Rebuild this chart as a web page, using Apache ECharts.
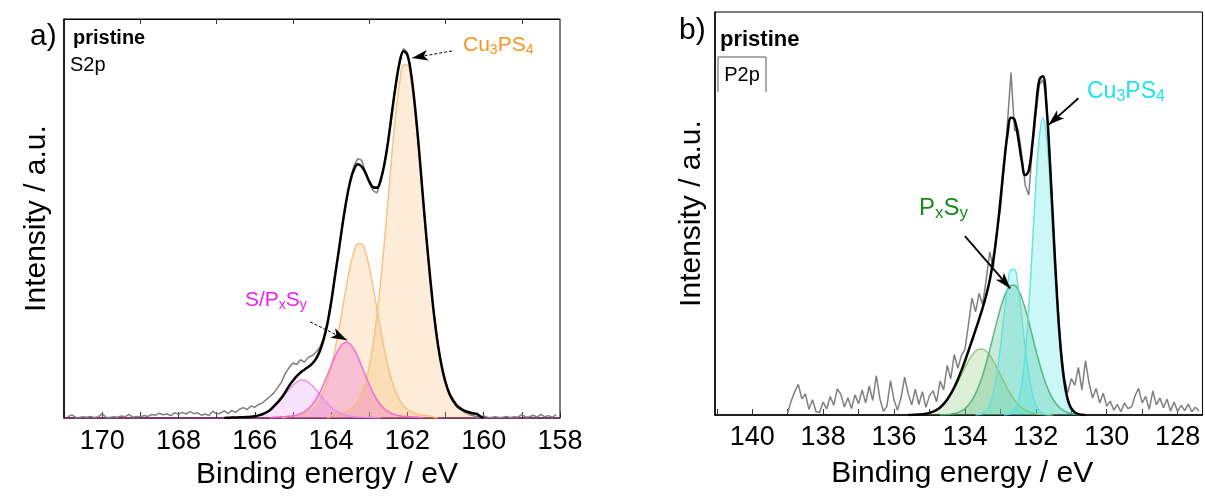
<!DOCTYPE html>
<html>
<head>
<meta charset="utf-8">
<script src="https://cdn.jsdelivr.net/npm/echarts@6/dist/echarts.min.js"></script>
<style>
  html, body { margin: 0; padding: 0; background: #ffffff; }
  #chart { width: 1205px; height: 498px; }
</style>
</head>
<body>
<div id="chart"></div>
<script>
// ---------- S2p region (panel a) ----------
// Measured spectrum, 0.1 eV steps going down from 170.9 eV
const s2pRaw = { start: 170.9, step: -0.1, values: [
  0.3, 0.8, 0.2, 0.1, 0.3, 0.2, 0.4, 0.1, 0.3, 1.1,
  0.2, 0.1, 0.3, 0.2, 0.5, 0.3, 0.9, 0.2, 0.4, 0.3,
  0.6, 0.4, 0.9, 0.7, 1.2, 0.8, 1.0, 0.6, 1.3, 0.9,
  1.4, 1.0, 1.6, 1.1, 1.3, 0.7, 1.0, 0.6, 1.7, 1.0,
  1.2, 1.8, 1.1, 1.9, 1.4, 2.2, 2.6, 2.1, 3.0, 2.7,
  3.4, 3.8, 4.6, 5.4, 6.3, 7.6, 9.0, 11.2, 12.6, 13.8,
  13.4, 14.6, 14.0, 15.2, 15.6, 16.4, 17.6, 20.0, 23.8, 29.2,
  35.6, 41.5, 48.8, 54.2, 59.6, 63.2, 65.0, 64.6, 61.8, 59.0,
  57.0, 56.4, 59.2, 63.5, 69.9, 77.2, 84.3, 90.0, 92.6, 91.6,
  86.4, 77.8, 67.3, 56.4, 45.0, 34.6, 25.9, 18.6, 13.2, 9.2,
  6.4, 4.8, 3.3, 2.6, 1.4, 1.0, 0.6, 0.4, 0.2, 0.5,
  0.2, 0.1, 0.3, 0.1, 0.2, 0.4, 0.1, 0.3, 0.2, 0.9,
  0.2, 0.3, 0.7, 0.2, 0.9, 0.3, 0.6, 0.2, 0.8
] };
// Fit components (Cu3PS4 doublet, S/PxSy doublet)
const s2pCu3PS4Main = { start: 160.0, step: 0.1, values: [
  0, 0.5, 1.1, 1.2, 1.5, 1.8, 2.3, 3.0, 4.3, 6.1, 8.9, 12.9, 18.4, 25.5, 34.4, 44.5,
  55.5, 66.7, 76.6, 84.3, 88.5, 88.5, 84.3, 76.6, 66.7, 55.5, 44.5, 34.4, 25.5, 18.4,
  12.9, 8.9, 6.1, 4.3, 3.0, 2.3, 1.8, 1.5, 1.2, 1.1, 0.5, 0
] };
const s2pCu3PS4Split = { start: 161.2, step: 0.1, values: [
  0, 0.2, 0.5, 0.6, 0.7, 0.9, 1.1, 1.5, 2.1, 3.0, 4.4, 6.4, 9.1, 12.6, 17.0, 22.0,
  27.5, 33.0, 37.9, 41.7, 43.7, 43.7, 41.7, 37.9, 33.0, 27.5, 22.0, 17.0, 12.6, 9.1,
  6.4, 4.4, 3.0, 2.1, 1.5, 1.1, 0.9, 0.7, 0.6, 0.5, 0.2, 0
] };
const s2pPxSyMain = { start: 161.6, step: 0.1, values: [
  0, 0.2, 0.25, 0.3, 0.34, 0.44, 0.57, 0.78, 1.08, 1.58, 2.3, 3.31, 4.64, 6.35, 8.38,
  10.68, 13.05, 15.33, 17.25, 18.54, 19.0, 18.54, 17.25, 15.33, 13.05, 10.68, 8.38,
  6.35, 4.64, 3.31, 2.3, 1.58, 1.08, 0.78, 0.57, 0.44, 0.34, 0.3, 0.25, 0.2, 0
] };
const s2pPxSySplit = { start: 162.7, step: 0.1, values: [
  0, 0.05, 0.11, 0.13, 0.16, 0.19, 0.25, 0.32, 0.46, 0.66, 0.95, 1.38, 1.97, 2.73,
  3.67, 4.75, 5.93, 7.12, 8.18, 9.0, 9.44, 9.44, 9.0, 8.18, 7.12, 5.93, 4.75, 3.67,
  2.73, 1.97, 1.38, 0.95, 0.66, 0.46, 0.32, 0.25, 0.19, 0.16, 0.13, 0.11, 0.05, 0
] };
const s2pTickLabels = [158, 160, 162, 164, 166, 168, 170];
const s2pTicks = [158, 159, 160, 161, 162, 163, 164, 165, 166, 167, 168, 169, 170];
const s2pTopTicks = [159, 161, 163, 165, 167, 169];

// ---------- P2p region (panel b) ----------
const p2pRaw = { start: 139.0, step: -0.1, values: [
  0.5, 3.5, 5.8, 7.6, 4.0, 5.2, 1.4, 3.8, 0.8, 0.6,
  3.2, 1.5, 4.6, 2.4, 6.5, 5.1, 2.0, 4.3, 1.6, 5.0,
  2.8, 6.2, 3.0, 7.2, 3.6, 9.8, 4.1, 0.9, 2.2, 8.5,
  3.7, 1.2, 4.4, 9.4, 5.3, 2.5, 6.4, 2.6, 5.8, 1.9,
  4.8, 6.0, 3.3, 8.4, 6.2, 12.3, 9.0, 15.0, 11.6, 14.8,
  16.2, 22.5, 29.0, 25.6, 30.2, 27.4, 33.6, 40.5, 36.3, 45.5,
  51.0, 61.0, 72.5, 85.0, 70.5, 71.0, 64.8, 57.0, 54.5, 66.0,
  74.5, 82.0, 83.2, 78.0, 63.5, 46.0, 29.8, 17.0, 9.6, 5.5,
  9.0, 7.4, 11.8, 6.2, 13.5, 8.0, 4.2, 6.6, 3.0, 5.4,
  2.2, 3.4, 1.2, 2.6, 0.8, 3.0, 1.6, 2.0, 4.8, 6.6,
  3.0, 4.6, 1.4, 6.0, 2.5, 4.2, 1.8, 3.9, 1.0, 3.2,
  0.9, 2.4, 1.1, 2.7, 0.8, 1.9, 1.0
] };
const p2pPxSySplit = { start: 131.5, step: 0.1, values: [
  0, 0.03, 0.06, 0.11, 0.19, 0.31, 0.52, 0.82, 1.26, 1.87, 2.69, 3.74, 5.02, 6.53,
  8.2, 9.99, 11.76, 13.42, 14.81, 15.81, 16.33, 16.33, 15.81, 14.81, 13.42, 11.76,
  9.99, 8.2, 6.53, 5.02, 3.74, 2.69, 1.87, 1.26, 0.82, 0.52, 0.31, 0.19, 0.11, 0.06, 0.03, 0
] };
const p2pPxSyMain = { start: 130.6, step: 0.1, values: [
  0, 0.06, 0.12, 0.21, 0.37, 0.61, 1.03, 1.62, 2.49, 3.68, 5.30, 7.36, 9.88, 12.86,
  16.15, 19.67, 23.16, 26.42, 29.17, 31.14, 32.17, 32.17, 31.14, 29.17, 26.42, 23.16,
  19.67, 16.15, 12.86, 9.88, 7.36, 5.30, 3.68, 2.49, 1.62, 1.03, 0.61, 0.37, 0.21, 0.12, 0.06, 0
] };
const p2pCu3PS4Main = { start: 130.7, step: 0.1, values: [
  0, 0.1, 0.44, 1.25, 3.24, 7.44, 15.0, 26.6, 41.6, 57.1, 69.1, 73.7, 69.1, 57.1,
  41.6, 26.6, 15.0, 7.44, 3.24, 1.25, 0.44, 0.13, 0
] };
const p2pCu3PS4Split = { start: 131.6, step: 0.1, values: [
  0, 0.1, 0.37, 1.03, 2.5, 5.36, 10.1, 16.8, 24.7, 31.8, 36.1, 36.1, 31.8, 24.7,
  16.8, 10.1, 5.36, 2.5, 1.03, 0.37, 0.1, 0
] };
const p2pTickLabels = [128, 130, 132, 134, 136, 138, 140];
const p2pTicks = [128, 129, 130, 131, 132, 133, 134, 135, 136, 137, 138, 139, 140, 141];

// ---------- helpers ----------
function toPairs(s) {
  return s.values.map((v, i) => [+(s.start + i * s.step).toFixed(2), v]);
}
// fit envelope = sum of the components on the common 0.1 eV grid
function envelope(list) {
  const m = new Map();
  list.forEach(s => toPairs(s).forEach(([e, v]) => {
    const k = Math.round(e * 10);
    m.set(k, (m.get(k) || 0) + v);
  }));
  return [...m.entries()].sort((a, b) => a[0] - b[0]).map(([k, v]) => [k / 10, +v.toFixed(2)]);
}

const FONT = '"Liberation Sans", Arial, sans-serif';

function component(xi, yi, src, line, fill) {
  return {
    type: 'line', xAxisIndex: xi, yAxisIndex: yi, data: toPairs(src),
    smooth: 0.4, showSymbol: false, silent: true, z: 2,
    lineStyle: { color: line, width: 1.5 },
    areaStyle: { color: fill, origin: 'start' }
  };
}
function rawLine(xi, yi, src) {
  return {
    type: 'line', xAxisIndex: xi, yAxisIndex: yi, data: toPairs(src),
    showSymbol: false, silent: true, z: 3,
    lineStyle: { color: '#7f7f7f', width: 1.5 }
  };
}
function arrow(from, to, type, width, size) {
  return [{ coord: from, lineStyle: { type: type, width: width, color: '#000' }, symbolSize: size }, { coord: to }];
}

const chart = echarts.init(document.getElementById('chart'), null, { renderer: 'canvas' });

const axisNameStyle = { fontSize: 30, color: '#000', fontFamily: FONT };
const tickLabelStyle = { fontSize: 27, color: '#000', fontFamily: FONT };

chart.setOption({
  animation: false,
  backgroundColor: '#ffffff',
  grid: [
    { left: 64, top: 19, width: 496, height: 399, show: true, borderColor: '#000', borderWidth: 1 },
    { left: 715, top: 12, width: 489.5, height: 403, show: true, borderColor: '#000', borderWidth: 1 }
  ],
  xAxis: [
    {
      gridIndex: 0, type: 'value', min: 158, max: 171, inverse: true,
      axisLine: { lineStyle: { color: '#7a1f5c', width: 1.5 } },
      axisTick: { inside: true, length: 6, customValues: s2pTicks, lineStyle: { color: '#333' } },
      axisLabel: Object.assign({ customValues: s2pTickLabels, margin: 10 }, tickLabelStyle),
      splitLine: { show: false },
      name: 'Binding energy / eV', nameLocation: 'middle', nameGap: 42,
      nameTextStyle: Object.assign({ padding: [0, 0, 0, 30] }, axisNameStyle)
    },
    {
      gridIndex: 0, type: 'value', min: 158, max: 171, inverse: true, position: 'top',
      axisLine: { lineStyle: { color: '#000', width: 1 } },
      axisTick: { inside: true, length: 5, customValues: s2pTopTicks, lineStyle: { color: '#333' } },
      axisLabel: { show: false }, splitLine: { show: false }
    },
    {
      gridIndex: 1, type: 'value', min: 127.3, max: 141.05, inverse: true,
      axisLine: { lineStyle: { color: '#000', width: 1.5 } },
      axisTick: { inside: true, length: 6, customValues: p2pTicks, lineStyle: { color: '#333' } },
      axisLabel: Object.assign({ customValues: p2pTickLabels, margin: 9 }, tickLabelStyle),
      splitLine: { show: false },
      name: 'Binding energy / eV', nameLocation: 'middle', nameGap: 44,
      nameTextStyle: Object.assign({ padding: [0, 0, 0, 7] }, axisNameStyle)
    }
  ],
  yAxis: [
    {
      gridIndex: 0, type: 'value', min: 0, max: 100,
      axisLine: { show: true, lineStyle: { color: '#000', width: 1.5 } },
      axisTick: { show: false }, axisLabel: { show: false }, splitLine: { show: false },
      name: 'Intensity / a.u.', nameLocation: 'middle', nameGap: 12, nameTextStyle: axisNameStyle
    },
    {
      gridIndex: 1, type: 'value', min: 0, max: 100,
      axisLine: { show: true, lineStyle: { color: '#000', width: 1.5 } },
      axisTick: { show: false }, axisLabel: { show: false }, splitLine: { show: false },
      name: 'Intensity / a.u.', nameLocation: 'middle', nameGap: 8, nameTextStyle: axisNameStyle
    }
  ],
  series: [
    // panel a
    component(0, 0, s2pCu3PS4Main, 'rgba(245,190,120,0.9)', 'rgba(245,175,90,0.35)'),
    component(0, 0, s2pCu3PS4Split, 'rgba(245,190,120,0.9)', 'rgba(245,175,90,0.35)'),
    component(0, 0, s2pPxSySplit, 'rgba(232,140,236,0.9)', 'rgba(220,130,240,0.32)'),
    component(0, 0, s2pPxSyMain, 'rgba(240,100,215,0.9)', 'rgba(235,80,200,0.4)'),
    rawLine(0, 0, s2pRaw),
    {
      type: 'line', xAxisIndex: 0, yAxisIndex: 0,
      data: envelope([s2pCu3PS4Main, s2pCu3PS4Split, s2pPxSyMain, s2pPxSySplit]),
      smooth: 0.4, showSymbol: false, silent: true, z: 4,
      lineStyle: { color: '#000', width: 2.5 },
      markLine: {
        silent: true, symbol: ['none', 'arrow'], label: { show: false },
        data: [
          arrow([160.83, 92.0], [161.88, 90.2], [3, 2], 1, 8),
          arrow([164.55, 24.1], [163.58, 19.5], [3, 2], 1, 8)
        ]
      }
    },
    // panel b
    component(2, 1, p2pPxSySplit, 'rgba(135,195,115,0.9)', 'rgba(120,190,90,0.35)'),
    component(2, 1, p2pPxSyMain, 'rgba(70,180,115,0.9)', 'rgba(50,175,110,0.38)'),
    component(2, 1, p2pCu3PS4Main, 'rgba(90,225,230,0.9)', 'rgba(64,224,224,0.38)'),
    component(2, 1, p2pCu3PS4Split, 'rgba(90,225,230,0.9)', 'rgba(64,224,224,0.38)'),
    rawLine(2, 1, p2pRaw),
    {
      type: 'line', xAxisIndex: 2, yAxisIndex: 1,
      data: envelope([p2pPxSySplit, p2pPxSyMain, p2pCu3PS4Main, p2pCu3PS4Split]),
      smooth: 0.4, showSymbol: false, silent: true, z: 4,
      lineStyle: { color: '#000', width: 2.5 },
      markLine: {
        silent: true, symbol: ['none', 'arrow'], label: { show: false },
        data: [
          arrow([130.80, 78.6], [131.64, 72.0], 'solid', 1.8, 10),
          arrow([134.0, 44.4], [132.72, 31.4], 'solid', 1.8, 10)
        ]
      }
    }
  ],
  graphic: [
    { type: 'text', z: 10, style: { x: 30, y: 37, text: 'a)', font: '30px ' + FONT, fill: '#000', verticalAlign: 'middle' } },
    { type: 'text', z: 10, style: { x: 679, y: 31, text: 'b)', font: '30px ' + FONT, fill: '#000', verticalAlign: 'middle' } },
    { type: 'text', z: 10, style: { x: 73, y: 38, text: 'pristine', font: 'bold 20px ' + FONT, fill: '#000', verticalAlign: 'middle' } },
    { type: 'text', z: 10, style: { x: 70, y: 65, text: 'S2p', font: '20px ' + FONT, fill: '#000', verticalAlign: 'middle' } },
    { type: 'text', z: 10, style: { x: 720, y: 40, text: 'pristine', font: 'bold 22px ' + FONT, fill: '#000', verticalAlign: 'middle' } },
    { type: 'text', z: 10, style: { x: 742, y: 75, text: 'P2p', font: '20px ' + FONT, fill: '#000', align: 'center', verticalAlign: 'middle' } },
    { type: 'polyline', z: 10, shape: { points: [[718, 92], [718, 57], [766, 57], [766, 92]] }, style: { stroke: '#555', lineWidth: 1, fill: null } },
    {
      type: 'text', z: 10,
      style: {
        x: 463, y: 45, verticalAlign: 'middle', text: '{m|Cu}{s|3}{m|PS}{s|4}',
        rich: {
          m: { fontSize: 21, lineHeight: 24, fontFamily: FONT, fill: '#F7941D' },
          s: { fontSize: 14, lineHeight: 14, fontFamily: FONT, fill: '#F7941D', verticalAlign: 'bottom' }
        }
      }
    },
    {
      type: 'text', z: 10,
      style: {
        x: 245, y: 300, verticalAlign: 'middle', text: '{m|S/P}{s|x}{m|S}{s|y}',
        rich: {
          m: { fontSize: 21, lineHeight: 24, fontFamily: FONT, fill: '#F020E6' },
          s: { fontSize: 14, lineHeight: 14, fontFamily: FONT, fill: '#F020E6', verticalAlign: 'bottom' }
        }
      }
    },
    {
      type: 'text', z: 10,
      style: {
        x: 1087, y: 92, verticalAlign: 'middle', text: '{m|Cu}{s|3}{m|PS}{s|4}',
        rich: {
          m: { fontSize: 23, lineHeight: 26, fontFamily: FONT, fill: '#1FE3EA' },
          s: { fontSize: 16, lineHeight: 16, fontFamily: FONT, fill: '#1FE3EA', verticalAlign: 'bottom' }
        }
      }
    },
    {
      type: 'text', z: 10,
      style: {
        x: 919, y: 208, verticalAlign: 'middle', text: '{m|P}{s|x}{m|S}{s|y}',
        rich: {
          m: { fontSize: 24, lineHeight: 27, fontFamily: FONT, fill: '#178A17' },
          s: { fontSize: 17, lineHeight: 17, fontFamily: FONT, fill: '#178A17', verticalAlign: 'bottom' }
        }
      }
    }
  ]
});
</script>
</body>
</html>
